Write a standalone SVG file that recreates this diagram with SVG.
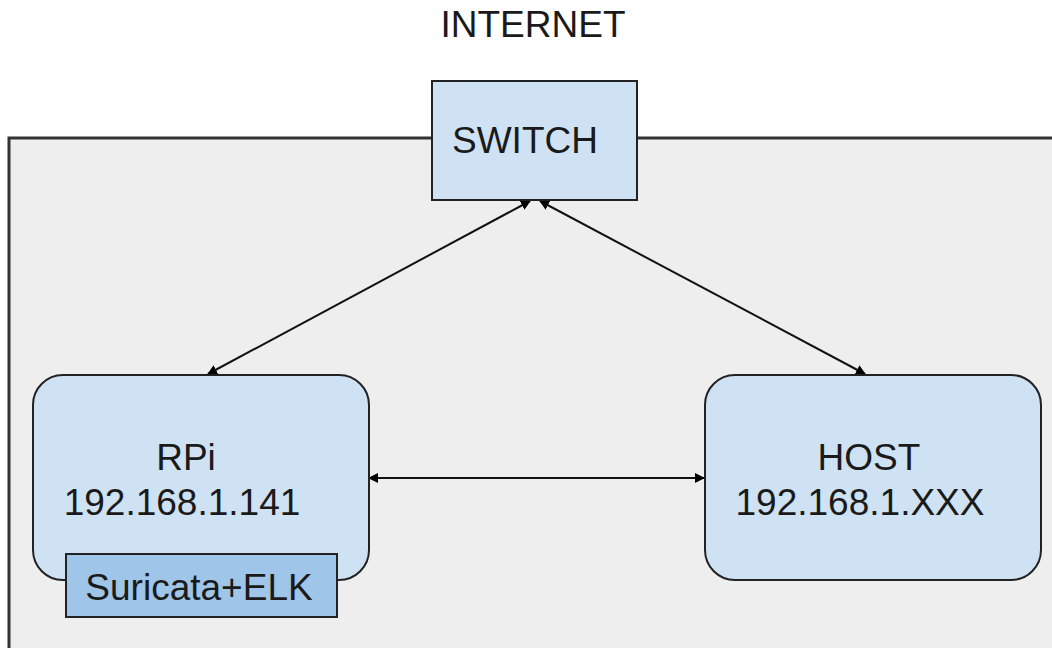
<svg xmlns="http://www.w3.org/2000/svg" width="1052" height="648" viewBox="0 0 1052 648">
  <defs>
    <marker id="arrow" viewBox="0 0 10 10" refX="9" refY="5" markerWidth="5" markerHeight="5" orient="auto-start-reverse" markerUnits="strokeWidth">
      <path d="M0,0 L10,5 L0,10 z" fill="#000"/>
    </marker>
    <style>
      .lbl { font-family: "Liberation Sans", Arial, sans-serif; font-size: 37px; fill: #1a1a1a; }
      .node { fill: #cfe2f3; stroke: #222; stroke-width: 2; }
      .tool { fill: #9fc5e8; stroke: #222; stroke-width: 2; }
      .link { stroke: #111; stroke-width: 2; fill: none; marker-start: url(#arrow); marker-end: url(#arrow); }
    </style>
  </defs>

  <rect width="1052" height="648" fill="#ffffff"/>

  <!-- local network area -->
  <g id="lan">
    <rect x="9" y="138" width="1060" height="530" fill="#eeeeee" stroke="#333" stroke-width="3"/>
  </g>

  <g id="internet">
    <text class="lbl" x="533" y="37" text-anchor="middle">INTERNET</text>
  </g>

  <g id="connectors">
    <line class="link" x1="530" y1="201" x2="208" y2="374"/>
    <line class="link" x1="540" y1="201" x2="865" y2="374"/>
    <line class="link" x1="369" y1="478" x2="704" y2="478"/>
  </g>

  <g id="switch">
    <rect class="node" x="432" y="81" width="205" height="119"/>
    <text class="lbl" x="452" y="153">SWITCH</text>
  </g>

  <g id="rpi">
    <rect class="node" x="33" y="375" width="336" height="205" rx="30" ry="30"/>
    <text class="lbl" x="186" y="470" text-anchor="middle">RPi</text>
    <text class="lbl" x="182" y="515" text-anchor="middle">192.168.1.141</text>
  </g>

  <g id="suricata">
    <rect class="tool" x="66" y="554" width="271" height="63"/>
    <text class="lbl" x="199" y="600" text-anchor="middle">Suricata+ELK</text>
  </g>

  <g id="host">
    <rect class="node" x="705" y="375" width="336" height="205" rx="30" ry="30"/>
    <text class="lbl" x="869" y="470" text-anchor="middle">HOST</text>
    <text class="lbl" x="860" y="515" text-anchor="middle">192.168.1.XXX</text>
  </g>
</svg>
